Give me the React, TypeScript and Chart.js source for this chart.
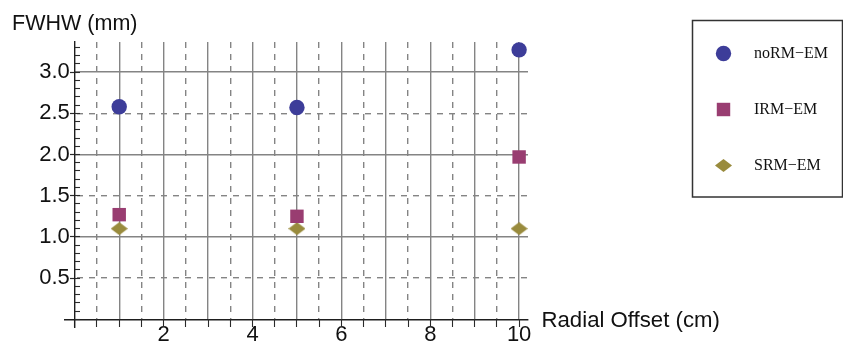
import React, { useEffect, useRef } from 'react';
import { Chart, registerables } from 'chart.js';

Chart.register(...registerables);

// ---- data ----
const SERIES_NAMES = ['noRM−EM', 'IRM−EM', 'SRM−EM'];
const RADIAL_OFFSET_CM = [1, 5, 10];
const FWHW_NORM_EM = [2.58, 2.57, 3.27];
const FWHW_IRM_EM = [1.27, 1.25, 1.97];
const FWHW_SRM_EM = [1.1, 1.1, 1.1];

// ---- ticks ----
const X_TICK_VALUES = [0, 0.5, 1, 1.5, 2, 2.5, 3, 3.5, 4, 4.5, 5, 5.5, 6, 6.5, 7, 7.5, 8, 8.5, 9, 9.5, 10];
const X_LABEL_VALUES = [2, 4, 6, 8, 10];
const X_TICK_LABELS = ['2', '4', '6', '8', '10'];
const Y_TICK_VALUES = [0.5, 1, 1.5, 2, 2.5, 3];
const Y_TICK_LABELS = ['0.5', '1.0', '1.5', '2.0', '2.5', '3.0'];
const Y_MINOR_TICK_VALUES = [
  0, 0.1, 0.2, 0.3, 0.4, 0.5, 0.6, 0.7, 0.8, 0.9, 1, 1.1, 1.2, 1.3, 1.4, 1.5, 1.6,
  1.7, 1.8, 1.9, 2, 2.1, 2.2, 2.3, 2.4, 2.5, 2.6, 2.7, 2.8, 2.9, 3, 3.1, 3.2, 3.3,
];
const X_TITLE = 'Radial Offset (cm)';
const Y_TITLE = 'FWHW (mm)';

const X_MIN = -0.22;
const X_MAX = 10.2;
const Y_MIN = -0.093;
const Y_MAX = 3.365;

// ---- styles ----
const COLORS = ['#3d3d99', '#993d71', '#998b3d'];
const GRID_COLOR = '#848484';
const AXIS_COLOR = '#1e1e1e';
const TICK_COLOR = '#2a2a2a';
const SANS = '"Liberation Sans", Arial, Helvetica, sans-serif';
const SERIF = '"Liberation Serif", "Times New Roman", serif';
const Y_LABEL_ANCHOR_X = -0.112; // y tick labels end just left of the y axis

function makeDiamond(color: string): HTMLCanvasElement {
  const c = document.createElement('canvas');
  c.width = 17;
  c.height = 13;
  const g = c.getContext('2d')!;
  g.fillStyle = color;
  g.beginPath();
  g.moveTo(0, 6.5);
  g.lineTo(8.5, 0);
  g.lineTo(17, 6.5);
  g.lineTo(8.5, 13);
  g.closePath();
  g.fill();
  return c;
}

function drawMarker(ctx: CanvasRenderingContext2D, style: any, color: string, r: number, x: number, y: number) {
  if (style && typeof style === 'object' && style.width) {
    ctx.drawImage(style, x - style.width / 2, y - style.height / 2);
    return;
  }
  ctx.fillStyle = color;
  ctx.beginPath();
  if (style === 'rect') {
    const s = Math.SQRT1_2 * r;
    ctx.rect(x - s, y - s, 2 * s, 2 * s);
  } else {
    ctx.arc(x, y, r, 0, Math.PI * 2);
  }
  ctx.fill();
}

const decorPlugin = {
  id: 'mmaDecor',
  beforeDatasetsDraw(chart: any) {
    const { ctx, chartArea } = chart;
    const xs = chart.scales.x;
    const ys = chart.scales.y;
    const x0 = xs.getPixelForValue(0);
    const y0 = ys.getPixelForValue(0);
    ctx.save();
    ctx.fillStyle = '#ffffff';
    ctx.fillRect(chartArea.left - 2, chartArea.top - 2, x0 - 0.7 - (chartArea.left - 2), chartArea.bottom - chartArea.top + 4);
    ctx.fillRect(chartArea.left - 2, y0 + 0.7, chartArea.right - chartArea.left + 4, chartArea.bottom - y0 + 2);
    ctx.restore();
  },
  afterDraw(chart: any) {
    const { ctx, chartArea } = chart;
    const xs = chart.scales.x;
    const ys = chart.scales.y;
    const x0 = xs.getPixelForValue(0);
    const y0 = ys.getPixelForValue(0);
    ctx.save();
    ctx.fillStyle = '#111111';
    ctx.textBaseline = 'alphabetic';
    ctx.textAlign = 'center';
    ctx.font = `21.5px ${SANS}`;
    ctx.fillText(Y_TITLE, x0, chartArea.top - 12.5);
    ctx.textAlign = 'left';
    ctx.font = `22.2px ${SANS}`;
    ctx.fillText(X_TITLE, xs.right + 13.5, y0 + 7.5);

    // legend box
    ctx.strokeStyle = '#333333';
    ctx.lineWidth = 1.5;
    ctx.strokeRect(692.5, 20.5, 150, 176.5);
    const datasets = chart.data.datasets;
    ctx.font = `16px ${SERIF}`;
    ctx.textBaseline = 'middle';
    ctx.textAlign = 'left';
    datasets.forEach((ds: any, i: number) => {
      const rowY = 53.5 + i * 56;
      drawMarker(ctx, ds.pointStyle, ds.backgroundColor, ds.pointRadius, 723.5, rowY);
      ctx.fillStyle = '#111111';
      ctx.fillText(ds.label, 754, rowY + 0.5);
    });
    ctx.restore();
  },
};

const isHalf = (c: any) => !!(c && c.tick && Math.abs(c.tick.value % 1) > 1e-6);

export default function App() {
  const ref = useRef<HTMLCanvasElement | null>(null);

  useEffect(() => {
    if (!ref.current) return;
    const seriesValues = [FWHW_NORM_EM, FWHW_IRM_EM, FWHW_SRM_EM];
    const styles: any[] = ['circle', 'rect', makeDiamond(COLORS[2])];
    const radii = [7.7, 9.5, 8];

    const datasets = SERIES_NAMES.map((name, i) => ({
      label: name,
      data: RADIAL_OFFSET_CM.map((x, j) => ({ x, y: seriesValues[i][j] })),
      backgroundColor: COLORS[i],
      borderColor: COLORS[i],
      pointStyle: styles[i],
      pointRadius: radii[i],
      pointBorderWidth: 0,
      showLine: false,
    }));

    const chart = new Chart(ref.current, {
      type: 'scatter',
      data: { datasets },
      plugins: [decorPlugin],
      options: {
        animation: false,
        responsive: false,
        events: [],
        layout: { padding: { left: 65, top: 42, right: 315, bottom: 18 } },
        plugins: { legend: { display: false }, tooltip: { enabled: false }, title: { display: false } },
        scales: {
          x: {
            type: 'linear',
            axis: 'x',
            position: { y: 0 } as any,
            min: X_MIN,
            max: X_MAX,
            afterBuildTicks: (s: any) => {
              s.ticks = X_TICK_VALUES.map((v) => ({ value: v }));
            },
            grid: {
              display: true,
              drawOnChartArea: true,
              drawTicks: false,
              z: -1,
              lineWidth: 1.4,
              color: (c: any) => (c.tick && c.tick.value === 0 ? 'rgba(0,0,0,0)' : GRID_COLOR),
            },
            border: {
              display: true,
              color: AXIS_COLOR,
              width: 1.4,
              z: 1,
              dash: (c: any) => (isHalf(c) ? [6, 6] : []),
            } as any,
            ticks: {
              z: 1,
              autoSkip: false,
              maxRotation: 0,
              padding: 2,
              color: '#111111',
              font: { family: SANS, size: 22 },
              callback: (value: any) => {
                const i = X_LABEL_VALUES.indexOf(Number(value));
                return i >= 0 ? X_TICK_LABELS[i] : '';
              },
            },
          },
          xTicks: {
            type: 'linear',
            axis: 'x',
            position: { y: 0 } as any,
            min: X_MIN,
            max: X_MAX,
            afterBuildTicks: (s: any) => {
              s.ticks = X_TICK_VALUES.map((v) => ({ value: v }));
            },
            grid: {
              display: true,
              drawOnChartArea: false,
              drawTicks: true,
              tickLength: 8,
              tickWidth: 1.1,
              tickColor: TICK_COLOR,
              z: 1,
            },
            border: { display: false },
            ticks: { display: false },
          },
          // data scale: horizontal grid lines + tick labels
          y: {
            type: 'linear',
            axis: 'y',
            position: { x: Y_LABEL_ANCHOR_X } as any,
            min: Y_MIN,
            max: Y_MAX,
            afterBuildTicks: (s: any) => {
              s.ticks = Y_TICK_VALUES.map((v) => ({ value: v }));
            },
            grid: {
              display: true,
              drawOnChartArea: true,
              drawTicks: false,
              z: -1,
              lineWidth: 1.4,
              color: GRID_COLOR,
            },
            border: {
              display: false,
              dash: (c: any) => (isHalf(c) ? [6, 6] : []),
            } as any,
            ticks: {
              z: 1,
              autoSkip: false,
              padding: 0,
              color: '#111111',
              font: { family: SANS, size: 22, lineHeight: 1 },
              callback: (value: any) => {
                const i = Y_TICK_VALUES.findIndex((v) => Math.abs(v - Number(value)) < 1e-6);
                return i >= 0 ? Y_TICK_LABELS[i] : '';
              },
            },
          },
          // the y axis line through x = 0 with its major ticks
          yAxis: {
            type: 'linear',
            axis: 'y',
            position: { x: 0 } as any,
            min: Y_MIN,
            max: Y_MAX,
            afterBuildTicks: (s: any) => {
              s.ticks = Y_TICK_VALUES.map((v) => ({ value: v }));
            },
            grid: {
              display: true,
              drawOnChartArea: false,
              drawTicks: true,
              tickLength: 4,
              tickWidth: 1.2,
              tickColor: TICK_COLOR,
              z: 1,
            },
            border: { display: true, color: AXIS_COLOR, width: 1.4, z: 1 },
            ticks: { display: false },
          },
          yMinor: {
            type: 'linear',
            axis: 'y',
            position: { x: 0 } as any,
            min: Y_MIN,
            max: Y_MAX,
            afterBuildTicks: (s: any) => {
              s.ticks = Y_MINOR_TICK_VALUES.map((v) => ({ value: v }));
            },
            grid: {
              display: true,
              drawOnChartArea: false,
              drawTicks: true,
              tickLength: -5,
              tickWidth: 1.1,
              tickColor: TICK_COLOR,
              z: 1,
            },
            border: { display: false },
            ticks: { display: false },
          },
        } as any,
      },
    });
    return () => chart.destroy();
  }, []);

  return (
    <div style={{ position: 'absolute', left: 0, top: 0, width: 843, height: 345, background: '#ffffff' }}>
      <canvas ref={ref} width={843} height={345} style={{ display: 'block', width: 843, height: 345 }} />
    </div>
  );
}
